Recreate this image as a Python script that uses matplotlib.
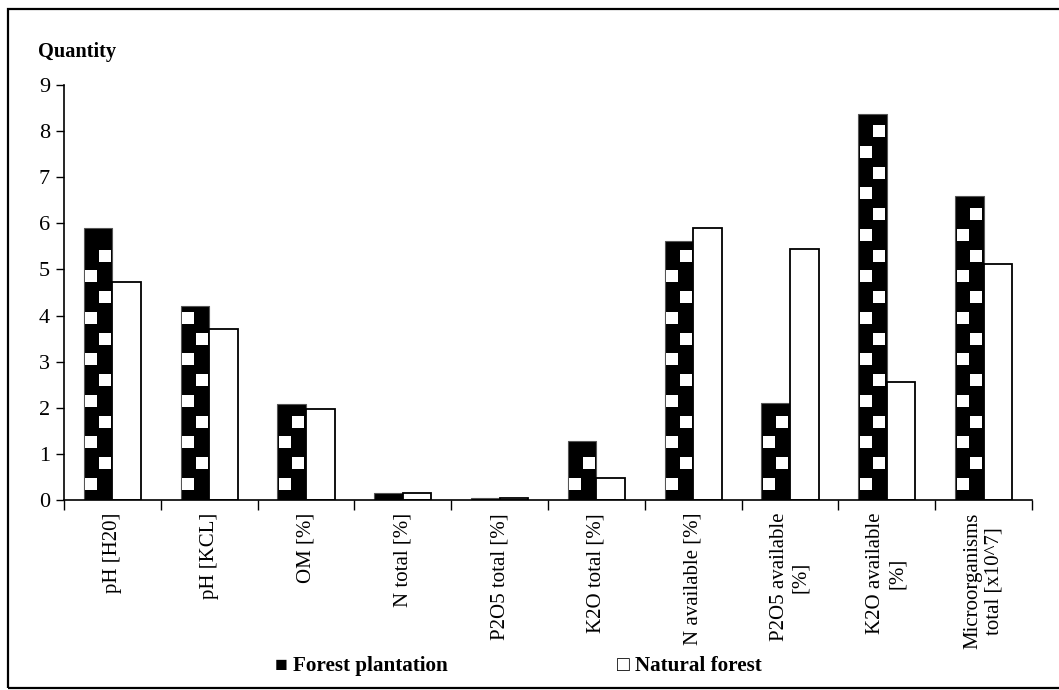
import numpy as np
import matplotlib.pyplot as plt
from matplotlib.patches import Rectangle

# Soil properties, two forest types
categories = ["pH [H20]", "pH [KCL]", "OM [%]", "N total [%]", "P2O5 total [%]",
              "K2O total [%]", "N available [%]", "P2O5 available\n[%]",
              "K2O available\n[%]", "Microorganisms\ntotal [x10^7]"]
plantation = [5.9, 4.2, 2.08, 0.15, 0.05, 1.28, 5.62, 2.1, 8.38, 6.59]
natural = [4.73, 3.7, 1.98, 0.15, 0.05, 0.48, 5.9, 5.44, 2.56, 5.12]

plt.rcParams['font.family'] = ['Liberation Serif', 'DejaVu Serif']

W, H = 1059, 690
fig = plt.figure(figsize=(W / 100, H / 100), dpi=100)
ax = fig.add_axes([64 / W, 1 - 500 / H, (1032 - 64) / W, (500 - 85) / H])

x = np.arange(len(categories))
w = 0.295

ax.bar(x - w / 2, plantation, w, color="black", edgecolor="#555555", linewidth=0.8, zorder=2)
ax.bar(x + w / 2, natural, w, color="white", edgecolor="black", linewidth=1.3, zorder=2)

# white square pattern on the dark bars
sx, sy = [], []
for xi, h in zip(x, plantation):
    k = 0
    y = 0.35
    while y < h - 0.2:
        off = -0.07 if k % 2 == 0 else 0.07
        sx.append(xi - w / 2 + off)
        sy.append(y)
        y += 0.45
        k += 1
ax.scatter(sx, sy, marker="s", s=85, color="white", linewidths=0, zorder=3)

ax.set_xlim(-0.5, len(categories) - 0.5)
ax.set_ylim(0, 9)
ax.set_yticks(range(0, 10))
ax.tick_params(axis="y", direction="out", length=6, width=1, labelsize=16, pad=4)

ax.set_xticks(np.arange(-0.5, len(categories), 1))
ax.set_xticklabels([])
ax.tick_params(axis="x", direction="out", length=7, width=1)
for xi, lab in zip(x, categories):
    ax.text(xi, -0.28, lab, rotation=90, ha="center", va="top", multialignment="center",
            fontsize=15)

for s in ["top", "right"]:
    ax.spines[s].set_visible(False)
ax.spines["left"].set_linewidth(1.2)
ax.spines["bottom"].set_linewidth(1.2)

fig.text(38 / W, 1 - 52 / H, "Quantity", fontsize=14.7, fontweight="bold", va="center")

# legend as text
fig.text(275 / W, 1 - 666 / H, "■ Forest plantation", fontsize=15.2, fontweight="bold",
         va="center", family=["Liberation Serif", "DejaVu Sans"])
fig.text(617 / W, 1 - 666 / H, "□ Natural forest", fontsize=15.2, fontweight="bold",
         va="center", family=["Liberation Serif", "DejaVu Sans"])

# outer frame
fig.patches.append(Rectangle((8 / W, 2 / H), 1.0, 1 - 11 / H, transform=fig.transFigure,
                             fill=False, edgecolor="black", linewidth=1.6))

fig.savefig("out.png", dpi=100)
